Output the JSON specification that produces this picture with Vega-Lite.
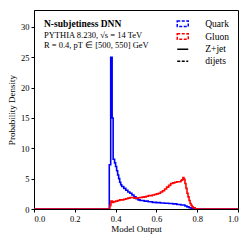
{
  "$schema": "https://vega.github.io/schema/vega-lite/v6.json",
  "width": 204,
  "height": 199,
  "autosize": {"type": "none"},
  "padding": {"left": 34, "top": 10, "right": 13, "bottom": 33},
  "background": "white",
  "config": {
    "view": {"stroke": "black", "strokeWidth": 1},
    "font": "Liberation Serif",
    "axis": {
      "grid": false,
      "domainColor": "black",
      "tickColor": "black",
      "tickSize": 3,
      "labelFont": "Liberation Serif",
      "labelFontSize": 8.5,
      "labelColor": "black",
      "titleFont": "Liberation Serif",
      "titleFontSize": 9,
      "titleFontWeight": "normal",
      "titleColor": "black"
    },
    "legend": {
      "labelFont": "Liberation Serif",
      "labelFontSize": 9.5,
      "labelColor": "black",
      "orient": "top-right",
      "offset": 7,
      "padding": 2,
      "title": null
    }
  },
  "title": {
    "text": "N-subjetiness DNN",
    "subtitle": ["PYTHIA 8.230, √s = 14 TeV", "R = 0.4, pT ∈ [500, 550] GeV"],
    "anchor": "start",
    "frame": "group",
    "orient": "top",
    "offset": -39,
    "dx": 10,
    "font": "Liberation Serif",
    "fontSize": 9.5,
    "fontWeight": "bold",
    "color": "black",
    "subtitleFont": "Liberation Serif",
    "subtitleFontSize": 8.5,
    "subtitleColor": "black",
    "subtitlePadding": 2,
    "subtitleLineHeight": 10
  },
  "data": {
    "values": [
      {"x": 0.0, "y": 0, "sample": "Quark"},
      {"x": 0.369, "y": 7.3, "sample": "Quark"},
      {"x": 0.376, "y": 25, "sample": "Quark"},
      {"x": 0.383, "y": 15, "sample": "Quark"},
      {"x": 0.388, "y": 8.2, "sample": "Quark"},
      {"x": 0.395, "y": 7.6, "sample": "Quark"},
      {"x": 0.4, "y": 7.0, "sample": "Quark"},
      {"x": 0.405, "y": 6.3, "sample": "Quark"},
      {"x": 0.41, "y": 5.6, "sample": "Quark"},
      {"x": 0.415, "y": 5.0, "sample": "Quark"},
      {"x": 0.42, "y": 4.4, "sample": "Quark"},
      {"x": 0.425, "y": 4.0, "sample": "Quark"},
      {"x": 0.43, "y": 3.7, "sample": "Quark"},
      {"x": 0.44, "y": 3.4, "sample": "Quark"},
      {"x": 0.45, "y": 3.1, "sample": "Quark"},
      {"x": 0.46, "y": 2.8, "sample": "Quark"},
      {"x": 0.47, "y": 2.6, "sample": "Quark"},
      {"x": 0.48, "y": 2.3, "sample": "Quark"},
      {"x": 0.49, "y": 2.0, "sample": "Quark"},
      {"x": 0.5, "y": 1.7, "sample": "Quark"},
      {"x": 0.51, "y": 1.5, "sample": "Quark"},
      {"x": 0.52, "y": 1.4, "sample": "Quark"},
      {"x": 0.54, "y": 1.3, "sample": "Quark"},
      {"x": 0.56, "y": 1.2, "sample": "Quark"},
      {"x": 0.58, "y": 1.1, "sample": "Quark"},
      {"x": 0.6, "y": 1.05, "sample": "Quark"},
      {"x": 0.62, "y": 1.0, "sample": "Quark"},
      {"x": 0.64, "y": 0.95, "sample": "Quark"},
      {"x": 0.66, "y": 0.9, "sample": "Quark"},
      {"x": 0.68, "y": 0.85, "sample": "Quark"},
      {"x": 0.7, "y": 0.75, "sample": "Quark"},
      {"x": 0.72, "y": 0.65, "sample": "Quark"},
      {"x": 0.74, "y": 0.5, "sample": "Quark"},
      {"x": 0.75, "y": 0.35, "sample": "Quark"},
      {"x": 0.76, "y": 0.2, "sample": "Quark"},
      {"x": 0.77, "y": 0.1, "sample": "Quark"},
      {"x": 0.78, "y": 0, "sample": "Quark"},
      {"x": 1.0, "y": 0, "sample": "Quark"},
      {"x": 0.0, "y": 0, "sample": "Gluon"},
      {"x": 0.372, "y": 0.6, "sample": "Gluon"},
      {"x": 0.377, "y": 1.3, "sample": "Gluon"},
      {"x": 0.385, "y": 1.1, "sample": "Gluon"},
      {"x": 0.39, "y": 1.2, "sample": "Gluon"},
      {"x": 0.4, "y": 1.3, "sample": "Gluon"},
      {"x": 0.41, "y": 1.4, "sample": "Gluon"},
      {"x": 0.42, "y": 1.5, "sample": "Gluon"},
      {"x": 0.43, "y": 1.5, "sample": "Gluon"},
      {"x": 0.44, "y": 1.6, "sample": "Gluon"},
      {"x": 0.45, "y": 1.7, "sample": "Gluon"},
      {"x": 0.46, "y": 1.8, "sample": "Gluon"},
      {"x": 0.47, "y": 1.9, "sample": "Gluon"},
      {"x": 0.48, "y": 1.9, "sample": "Gluon"},
      {"x": 0.49, "y": 1.8, "sample": "Gluon"},
      {"x": 0.5, "y": 1.8, "sample": "Gluon"},
      {"x": 0.51, "y": 1.85, "sample": "Gluon"},
      {"x": 0.52, "y": 1.9, "sample": "Gluon"},
      {"x": 0.53, "y": 1.95, "sample": "Gluon"},
      {"x": 0.54, "y": 2.0, "sample": "Gluon"},
      {"x": 0.55, "y": 2.1, "sample": "Gluon"},
      {"x": 0.56, "y": 2.2, "sample": "Gluon"},
      {"x": 0.57, "y": 2.2, "sample": "Gluon"},
      {"x": 0.58, "y": 2.3, "sample": "Gluon"},
      {"x": 0.59, "y": 2.4, "sample": "Gluon"},
      {"x": 0.6, "y": 2.5, "sample": "Gluon"},
      {"x": 0.61, "y": 2.6, "sample": "Gluon"},
      {"x": 0.62, "y": 2.8, "sample": "Gluon"},
      {"x": 0.63, "y": 3.0, "sample": "Gluon"},
      {"x": 0.64, "y": 3.3, "sample": "Gluon"},
      {"x": 0.65, "y": 3.6, "sample": "Gluon"},
      {"x": 0.66, "y": 3.9, "sample": "Gluon"},
      {"x": 0.67, "y": 4.2, "sample": "Gluon"},
      {"x": 0.68, "y": 4.3, "sample": "Gluon"},
      {"x": 0.69, "y": 4.4, "sample": "Gluon"},
      {"x": 0.7, "y": 4.5, "sample": "Gluon"},
      {"x": 0.71, "y": 4.5, "sample": "Gluon"},
      {"x": 0.72, "y": 4.7, "sample": "Gluon"},
      {"x": 0.725, "y": 4.8, "sample": "Gluon"},
      {"x": 0.73, "y": 5.2, "sample": "Gluon"},
      {"x": 0.735, "y": 4.9, "sample": "Gluon"},
      {"x": 0.74, "y": 4.2, "sample": "Gluon"},
      {"x": 0.745, "y": 3.4, "sample": "Gluon"},
      {"x": 0.75, "y": 2.6, "sample": "Gluon"},
      {"x": 0.755, "y": 2.0, "sample": "Gluon"},
      {"x": 0.76, "y": 1.4, "sample": "Gluon"},
      {"x": 0.765, "y": 0.9, "sample": "Gluon"},
      {"x": 0.77, "y": 0.6, "sample": "Gluon"},
      {"x": 0.775, "y": 0.35, "sample": "Gluon"},
      {"x": 0.78, "y": 0.2, "sample": "Gluon"},
      {"x": 0.79, "y": 0.05, "sample": "Gluon"},
      {"x": 0.8, "y": 0, "sample": "Gluon"},
      {"x": 1.0, "y": 0, "sample": "Gluon"}
    ]
  },
  "mark": {"type": "line", "interpolate": "step-after", "strokeWidth": 1.6, "clip": true},
  "encoding": {
    "x": {
      "field": "x", "type": "quantitative",
      "scale": {"domain": [0, 1], "nice": false, "zero": false},
      "axis": {"values": [0, 0.2, 0.4, 0.6, 0.8, 1.0], "format": ".1f", "title": "Model Output", "titlePadding": 2, "labelPadding": 2}
    },
    "y": {
      "field": "y", "type": "quantitative",
      "scale": {"domain": [0, 32.8], "nice": false},
      "axis": {"values": [0, 5, 10, 15, 20, 25, 30], "title": "Probability Density", "titlePadding": 4, "labelPadding": 2}
    },
    "color": {
      "field": "sample", "type": "nominal",
      "scale": {"domain": ["Quark", "Gluon", "Z+jet", "dijets"], "range": ["#0000ff", "#ff0000", "#000000", "#000000"]},
      "legend": {
        "symbolType": "M-2,-1H2V1H-2Z",
        "symbolSize": 30.25,
        "symbolStrokeWidth": 1.5,
        "labelOffset": 17.75,
        "rowPadding": 0.8,
        "encode": {
          "symbols": {
            "update": {
              "shape": {"signal": "datum.value === 'Quark' || datum.value === 'Gluon' ? 'M-2,-1H2V1H-2Z' : 'M-2,0H2'"},
              "strokeDash": {"signal": "datum.value === 'Z+jet' ? [1, 0] : [3, 1.5]"},
              "fill": {"value": "transparent"},
              "strokeWidth": {"value": 1.5}
            }
          }
        }
      }
    },
    "order": {"field": "sample", "sort": "descending"}
  }
}
